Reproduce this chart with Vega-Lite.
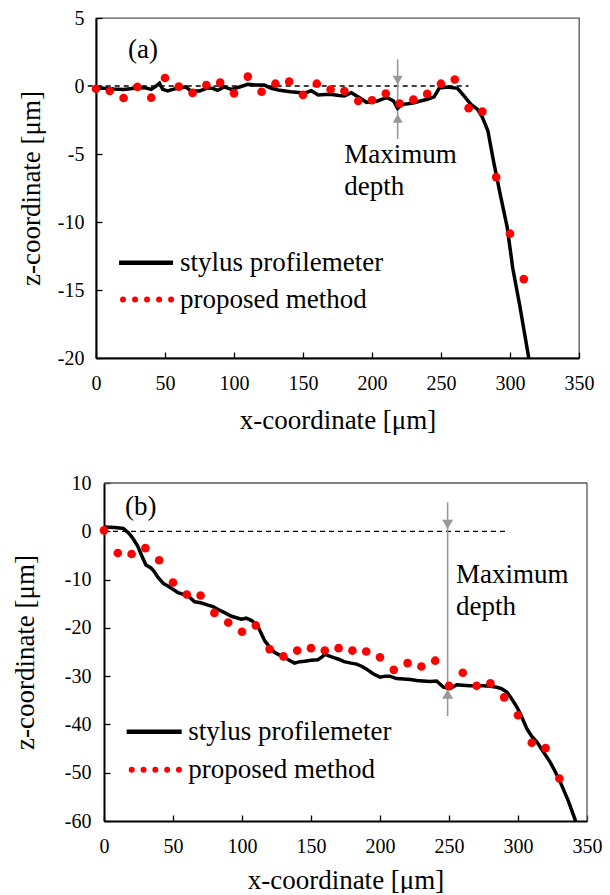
{
  "$schema": "https://vega.github.io/schema/vega-lite/v6.json",
  "padding": {"left": 11, "top": 7, "right": 0, "bottom": 0},
  "background": "white",
  "spacing": 39,
  "config": {
    "font": "Liberation Serif",
    "view": {"stroke": "#555555", "strokeWidth": 1.3},
    "axis": {
      "grid": false,
      "domainColor": "black",
      "domainWidth": 2,
      "tickColor": "black",
      "tickWidth": 1.3,
      "tickSize": -6,
      "labelFont": "Liberation Serif",
      "labelFontSize": 20,
      "labelColor": "black",
      "labelFlush": false,
      "labelExpr": "replace(datum.label, '−', '-')",
      "titleFont": "Liberation Serif",
      "titleFontSize": 27,
      "titleFontWeight": "normal",
      "titleColor": "black"
    },
    "axisX": {"labelPadding": 21, "titlePadding": 14},
    "axisY": {"labelPadding": 18, "titlePadding": 12}
  },
  "datasets": {
    "stylusA": [
      {"x": 0, "z": -0.17}, {"x": 6, "z": -0.17}, {"x": 13, "z": -0.22}, {"x": 20, "z": -0.25},
      {"x": 28, "z": -0.17}, {"x": 35, "z": -0.12}, {"x": 40, "z": -0.25}, {"x": 43.5, "z": 0.0},
      {"x": 46, "z": 0.2}, {"x": 48.3, "z": -0.25}, {"x": 52, "z": -0.37}, {"x": 55.6, "z": -0.25},
      {"x": 59, "z": -0.17}, {"x": 65, "z": -0.07}, {"x": 68.8, "z": -0.37}, {"x": 75, "z": -0.37},
      {"x": 80, "z": -0.17}, {"x": 84.5, "z": -0.17}, {"x": 88, "z": -0.32}, {"x": 93, "z": -0.07},
      {"x": 98, "z": -0.25}, {"x": 104, "z": -0.07}, {"x": 110, "z": 0.12}, {"x": 116, "z": 0.07},
      {"x": 122, "z": 0.07}, {"x": 127, "z": -0.17}, {"x": 133, "z": -0.32}, {"x": 141, "z": -0.42},
      {"x": 151, "z": -0.52}, {"x": 156, "z": -0.35}, {"x": 161, "z": -0.66}, {"x": 166, "z": -0.62},
      {"x": 171, "z": -0.63}, {"x": 176, "z": -0.7}, {"x": 180, "z": -0.74}, {"x": 185, "z": -0.49},
      {"x": 191, "z": -0.86}, {"x": 196, "z": -1.2}, {"x": 200, "z": -1.15}, {"x": 204, "z": -1.1},
      {"x": 208, "z": -0.95}, {"x": 211, "z": -0.86}, {"x": 215.6, "z": -1.1}, {"x": 218.5, "z": -1.64},
      {"x": 222, "z": -1.35}, {"x": 226, "z": -1.3}, {"x": 230.6, "z": -1.23}, {"x": 235, "z": -1.1},
      {"x": 240, "z": -0.98}, {"x": 245, "z": -0.8}, {"x": 248.7, "z": -0.15}, {"x": 254.8, "z": -0.07},
      {"x": 262, "z": -0.17}, {"x": 266.8, "z": -0.74}, {"x": 271.7, "z": -1.35}, {"x": 276.5, "z": -1.72},
      {"x": 280, "z": -2.3}, {"x": 284, "z": -3.3}, {"x": 288, "z": -5.5}, {"x": 293, "z": -8.0},
      {"x": 298, "z": -10.4}, {"x": 302, "z": -13.4}, {"x": 307, "z": -16.1}, {"x": 313.6, "z": -20},
      {"x": 314.5, "z": -20.6}
    ],
    "methodA": [
      {"x": 0, "z": -0.2}, {"x": 10, "z": -0.37}, {"x": 20, "z": -0.88}, {"x": 30, "z": -0.07},
      {"x": 40, "z": -0.86}, {"x": 50, "z": 0.59}, {"x": 60, "z": -0.05}, {"x": 70, "z": -0.51},
      {"x": 80, "z": 0.07}, {"x": 90, "z": 0.25}, {"x": 100, "z": -0.54}, {"x": 110, "z": 0.69},
      {"x": 120, "z": -0.42}, {"x": 130, "z": 0.17}, {"x": 140, "z": 0.32}, {"x": 150, "z": -0.65},
      {"x": 160, "z": 0.17}, {"x": 170, "z": -0.26}, {"x": 180, "z": -0.37}, {"x": 190, "z": -1.1},
      {"x": 200, "z": -1.05}, {"x": 210, "z": -0.55}, {"x": 220, "z": -1.3}, {"x": 230, "z": -1.0},
      {"x": 240, "z": -0.58}, {"x": 250, "z": 0.17}, {"x": 260, "z": 0.48}, {"x": 270, "z": -1.63},
      {"x": 280, "z": -1.88}, {"x": 290, "z": -6.7}, {"x": 300, "z": -10.86}, {"x": 310, "z": -14.2}
    ],
    "stylusB": [
      {"x": 0, "z": 0.9}, {"x": 8, "z": 0.8}, {"x": 14, "z": 0.6}, {"x": 18, "z": -0.4},
      {"x": 21, "z": -1.5}, {"x": 24.5, "z": -3.1}, {"x": 28, "z": -5.5}, {"x": 30.4, "z": -7.0},
      {"x": 34, "z": -7.6}, {"x": 36, "z": -8.2}, {"x": 39, "z": -9.5}, {"x": 43, "z": -10.8},
      {"x": 46, "z": -11.3}, {"x": 50, "z": -12.0}, {"x": 53.6, "z": -12.7}, {"x": 57, "z": -13.0},
      {"x": 61, "z": -13.4}, {"x": 65.7, "z": -14.6}, {"x": 70, "z": -14.8}, {"x": 75.4, "z": -15.3},
      {"x": 79, "z": -15.6}, {"x": 82.7, "z": -16.2}, {"x": 87, "z": -16.8}, {"x": 92.4, "z": -17.6},
      {"x": 96, "z": -17.9}, {"x": 99.6, "z": -18.2}, {"x": 103, "z": -18.0}, {"x": 107, "z": -18.5},
      {"x": 110, "z": -19.2}, {"x": 112, "z": -20.0}, {"x": 116.5, "z": -22.7}, {"x": 120, "z": -24.0},
      {"x": 123.7, "z": -25.1}, {"x": 127, "z": -25.6}, {"x": 131, "z": -26.2}, {"x": 135, "z": -26.8},
      {"x": 138, "z": -27.3}, {"x": 142, "z": -27.0}, {"x": 145.4, "z": -26.9}, {"x": 150, "z": -26.7},
      {"x": 155, "z": -26.6}, {"x": 158, "z": -26.0}, {"x": 160, "z": -25.5}, {"x": 163, "z": -25.8},
      {"x": 167, "z": -26.2}, {"x": 170, "z": -26.5}, {"x": 174, "z": -27.0}, {"x": 179, "z": -27.3},
      {"x": 183, "z": -27.5}, {"x": 187, "z": -28.0}, {"x": 190, "z": -28.5}, {"x": 195, "z": -29.5},
      {"x": 200, "z": -30.2}, {"x": 204, "z": -30.0}, {"x": 207, "z": -30.0}, {"x": 212, "z": -30.5},
      {"x": 217, "z": -30.6}, {"x": 222, "z": -30.7}, {"x": 226.6, "z": -30.9}, {"x": 231, "z": -31.0},
      {"x": 236.3, "z": -31.1}, {"x": 241, "z": -31.0}, {"x": 246, "z": -32.3}, {"x": 250.7, "z": -32.6},
      {"x": 255.6, "z": -31.8}, {"x": 260, "z": -31.9}, {"x": 265.2, "z": -32.0}, {"x": 270, "z": -32.0},
      {"x": 275, "z": -32.0}, {"x": 280, "z": -32.1}, {"x": 284.7, "z": -32.3}, {"x": 288, "z": -32.6},
      {"x": 291.9, "z": -33.3}, {"x": 295, "z": -34.5}, {"x": 299.2, "z": -36.4}, {"x": 302, "z": -38.0},
      {"x": 306.4, "z": -40.9}, {"x": 310, "z": -42.5}, {"x": 313.6, "z": -43.6}, {"x": 318, "z": -45.5},
      {"x": 323.3, "z": -47.8}, {"x": 327, "z": -49.8}, {"x": 330.6, "z": -51.9}, {"x": 336, "z": -55.5},
      {"x": 341.5, "z": -59.8}, {"x": 342, "z": -60.5}
    ],
    "methodB": [
      {"x": 0, "z": 0.2}, {"x": 10, "z": -4.5}, {"x": 20, "z": -4.7}, {"x": 30, "z": -3.5},
      {"x": 40, "z": -6.0}, {"x": 50, "z": -10.6}, {"x": 60, "z": -13.1}, {"x": 70, "z": -13.3},
      {"x": 80, "z": -16.9}, {"x": 90, "z": -18.9}, {"x": 100, "z": -20.8}, {"x": 110, "z": -19.5},
      {"x": 120, "z": -24.4}, {"x": 130, "z": -25.9}, {"x": 140, "z": -24.7}, {"x": 150, "z": -24.2},
      {"x": 160, "z": -24.7}, {"x": 170, "z": -24.2}, {"x": 180, "z": -24.7}, {"x": 190, "z": -24.9},
      {"x": 200, "z": -26.1}, {"x": 210, "z": -28.7}, {"x": 220, "z": -27.3}, {"x": 230, "z": -28.0},
      {"x": 240, "z": -26.8}, {"x": 250, "z": -32.0}, {"x": 260, "z": -29.3}, {"x": 270, "z": -32.0},
      {"x": 280, "z": -31.5}, {"x": 290, "z": -34.4}, {"x": 300, "z": -38.1}, {"x": 310, "z": -43.8},
      {"x": 320, "z": -44.9}, {"x": 330, "z": -51.2}
    ]
  },
  "vconcat": [
    {
      "width": 483,
      "height": 340,
      "encoding": {
        "x": {"field": "x", "type": "quantitative", "scale": {"domain": [0, 350], "nice": false, "zero": false},
              "axis": {"title": "x-coordinate [μm]", "values": [0, 50, 100, 150, 200, 250, 300, 350]}},
        "y": {"field": "z", "type": "quantitative", "scale": {"domain": [-20, 5], "nice": false, "zero": false},
              "axis": {"title": "z-coordinate [μm]", "values": [5, 0, -5, -10, -15, -20]}}
      },
      "layer": [
        {"data": {"values": [{"x": -6, "x2": 270, "z": 0}]},
         "mark": {"type": "rule", "color": "black", "strokeWidth": 1.3, "strokeDash": [5, 4]},
         "encoding": {"x2": {"field": "x2"}}},
        {"data": {"values": [{"x": 218.6, "z": 1.96, "z2": -3.9}]},
         "mark": {"type": "rule", "color": "#999999", "strokeWidth": 1.6},
         "encoding": {"y2": {"field": "z2"}}},
        {"data": {"values": [{"x": 218.6, "z": 0.43}]},
         "mark": {"type": "point", "shape": "triangle-down", "filled": true, "color": "#999999", "opacity": 1, "size": 100},
         "encoding": {}},
        {"data": {"values": [{"x": 218.6, "z": -2.39}]},
         "mark": {"type": "point", "shape": "triangle-up", "filled": true, "color": "#999999", "opacity": 1, "size": 100},
         "encoding": {}},
        {"data": {"name": "stylusA"},
         "mark": {"type": "line", "color": "black", "strokeWidth": 3.5, "clip": true},
         "encoding": {}},
        {"data": {"name": "methodA"},
         "mark": {"type": "circle", "color": "#ff0000", "size": 75, "opacity": 1},
         "encoding": {}},
        {"data": {"values": [{"x": 23.2, "z": 2.08, "label": "(a)"}, {"x": 179.9, "z": -5.64, "label": "Maximum"}, {"x": 179.9, "z": -8.0, "label": "depth"}]},
         "mark": {"type": "text", "align": "left", "baseline": "alphabetic", "fontSize": 27, "font": "Liberation Serif", "color": "black"},
         "encoding": {"text": {"field": "label"}}},
        {"data": {"values": [{"x": 16.7, "x2": 55.8, "z": -13.0}]},
         "mark": {"type": "rule", "color": "black", "strokeWidth": 4.5},
         "encoding": {"x2": {"field": "x2"}}},
        {"data": {"values": [{"x": 19.6, "x2": 54.6, "z": -15.7}]},
         "mark": {"type": "rule", "color": "#ff0000", "strokeWidth": 6, "strokeCap": "round", "strokeDash": [0.01, 12]},
         "encoding": {"x2": {"field": "x2"}}},
        {"data": {"values": [{"x": 60.9, "z": -13.0, "label": "stylus profilemeter"}, {"x": 60.9, "z": -15.7, "label": "proposed method"}]},
         "mark": {"type": "text", "align": "left", "baseline": "middle", "fontSize": 27, "font": "Liberation Serif", "color": "black"},
         "encoding": {"text": {"field": "label"}}}
      ]
    },
    {
      "width": 491,
      "height": 338,
      "view": {"stroke": null},
      "encoding": {
        "x": {"field": "x", "type": "quantitative", "scale": {"domain": [0, 350], "range": [8, 491], "nice": false, "zero": false},
              "axis": {"title": "x-coordinate [μm]", "values": [0, 50, 100, 150, 200, 250, 300, 350], "titlePadding": 11}},
        "y": {"field": "z", "type": "quantitative", "scale": {"domain": [-60, 10], "nice": false, "zero": false},
              "axis": {"title": "z-coordinate [μm]", "values": [10, 0, -10, -20, -30, -40, -50, -60], "offset": -8, "titlePadding": 25, "labelPadding": 19}}
      },
      "layer": [
        {"data": {"values": [{"x": 0, "x2": 350, "z": 10}, {"x": 350, "x2": 350, "z": 10, "z2": -60}]},
         "mark": {"type": "rule", "color": "#555555", "strokeWidth": 1.3},
         "encoding": {"x2": {"field": "x2"}, "y2": {"field": "z2"}}},
        {"data": {"values": [{"x": 0, "x2": 290.5, "z": 0}]},
         "mark": {"type": "rule", "color": "black", "strokeWidth": 1.3, "strokeDash": [5, 4]},
         "encoding": {"x2": {"field": "x2"}}},
        {"data": {"values": [{"x": 249, "z": 6.0, "z2": -38.3}]},
         "mark": {"type": "rule", "color": "#999999", "strokeWidth": 1.6},
         "encoding": {"y2": {"field": "z2"}}},
        {"data": {"values": [{"x": 249, "z": 1.4}]},
         "mark": {"type": "point", "shape": "triangle-down", "filled": true, "color": "#999999", "opacity": 1, "size": 121},
         "encoding": {}},
        {"data": {"values": [{"x": 249, "z": -33.7}]},
         "mark": {"type": "point", "shape": "triangle-up", "filled": true, "color": "#999999", "opacity": 1, "size": 121},
         "encoding": {}},
        {"data": {"name": "stylusB"},
         "mark": {"type": "line", "color": "black", "strokeWidth": 3.5, "clip": true},
         "encoding": {}},
        {"data": {"name": "methodB"},
         "mark": {"type": "circle", "color": "#ff0000", "size": 75, "opacity": 1},
         "encoding": {}},
        {"data": {"values": [{"x": 15.2, "z": 3.4, "label": "(b)"}, {"x": 255, "z": -10.7, "label": "Maximum"}, {"x": 255, "z": -17.3, "label": "depth"}]},
         "mark": {"type": "text", "align": "left", "baseline": "alphabetic", "fontSize": 27, "font": "Liberation Serif", "color": "black"},
         "encoding": {"text": {"field": "label"}}},
        {"data": {"values": [{"x": 16.4, "x2": 56.3, "z": -41.5}]},
         "mark": {"type": "rule", "color": "black", "strokeWidth": 4.5},
         "encoding": {"x2": {"field": "x2"}}},
        {"data": {"values": [{"x": 20.1, "x2": 54.5, "z": -49.4}]},
         "mark": {"type": "rule", "color": "#ff0000", "strokeWidth": 6, "strokeCap": "round", "strokeDash": [0.01, 11.8]},
         "encoding": {"x2": {"field": "x2"}}},
        {"data": {"values": [{"x": 61.1, "z": -41.5, "label": "stylus profilemeter"}, {"x": 61.1, "z": -49.4, "label": "proposed method"}]},
         "mark": {"type": "text", "align": "left", "baseline": "middle", "fontSize": 27, "font": "Liberation Serif", "color": "black"},
         "encoding": {"text": {"field": "label"}}}
      ]
    }
  ]
}
